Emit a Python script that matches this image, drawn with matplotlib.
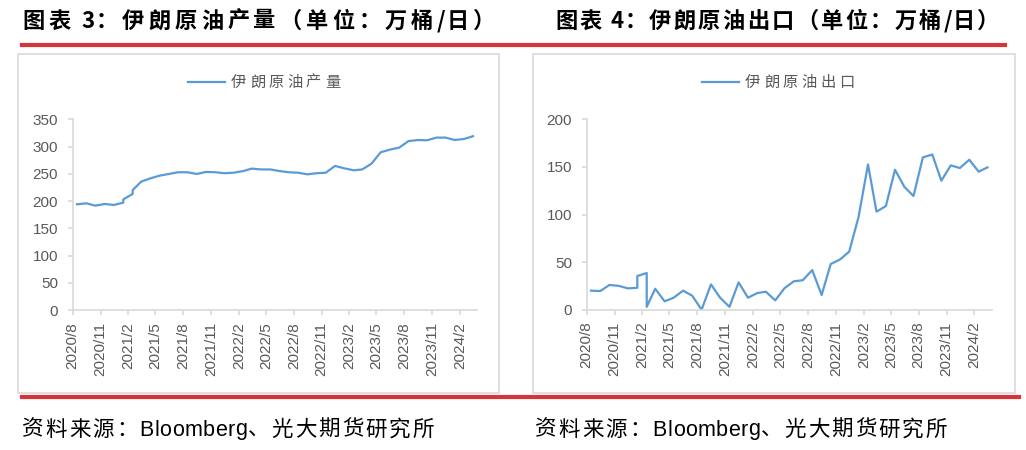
import matplotlib
matplotlib.use("Agg")
import matplotlib.pyplot as plt
from matplotlib.lines import Line2D
from matplotlib.patches import Rectangle
import pandas as pd

plt.rcParams['font.family'] = ['Liberation Sans', 'Noto Sans CJK SC', 'DejaVu Sans']

# ---------------- data ----------------
months = ["2020-08", "2020-09", "2020-10", "2020-11", "2020-12",
          "2021-01", "2021-01", "2021-02", "2021-02",
          "2021-03", "2021-04", "2021-05", "2021-06", "2021-07", "2021-08",
          "2021-09", "2021-10", "2021-11", "2021-12",
          "2022-01", "2022-02", "2022-03", "2022-04", "2022-05", "2022-06",
          "2022-07", "2022-08", "2022-09", "2022-10", "2022-11", "2022-12",
          "2023-01", "2023-02", "2023-03", "2023-04", "2023-05", "2023-06",
          "2023-07", "2023-08", "2023-09", "2023-10", "2023-11", "2023-12",
          "2024-01", "2024-02", "2024-03"]

production = [194, 195.8, 191.5, 194.6, 192.8,
              197, 203, 213, 220,
              235.6, 241.7, 246.6, 249.7, 252.8, 252.8,
              249.7, 253.4, 252.8, 251,
              252, 255, 259.5, 258, 258, 255,
              252.8, 252, 249, 251, 252, 264.4,
              260, 256.4, 258, 268.7, 289.5, 294.4,
              298, 310, 312, 311.5, 316.4, 316.4,
              312, 314, 319]

exports = [20, 19.6, 26, 25, 22.4,
           23, 35.4, 38.5, 3,
           22, 8.8, 12.6, 20, 14.7, 0,
           26.6, 12.6, 3, 28.7,
           12.6, 17.5, 18.9, 9.8, 22.4, 29.8,
           31, 41.6, 15.4, 48, 52.8, 61,
           97.7, 152.6, 103, 108.9, 147, 129,
           119.4, 160, 163, 135.5, 151.6, 148.8,
           157.5, 145, 149.5]

tick_months = ["2020-08", "2020-11", "2021-02", "2021-05", "2021-08", "2021-11",
               "2022-02", "2022-05", "2022-08", "2022-11", "2023-02", "2023-05",
               "2023-08", "2023-11", "2024-02"]
tick_labels = ["2020/8", "2020/11", "2021/2", "2021/5", "2021/8", "2021/11",
               "2022/2", "2022/5", "2022/8", "2022/11", "2023/2", "2023/5",
               "2023/8", "2023/11", "2024/2"]

titles = ["图表 3：伊朗原油产量（单位：万桶/日）", "图表 4：伊朗原油出口（单位：万桶/日）"]
legend_labels = ["伊朗原油产量", "伊朗原油出口"]
source_text = "资料来源：Bloomberg、光大期货研究所"

# ---------------- figure ----------------
W, H = 1026, 450
fig = plt.figure(figsize=(W / 100, H / 100), dpi=100)
renderer = fig.canvas.get_renderer()


def fx(x):
    return x / W


def fy(y):
    return 1 - y / H


def spaced_text(x_px, y_px, text, spacing_px, **kw):
    """Draw text char by char (CJK chars get extra letter spacing)."""
    x = x_px
    for ch in text:
        t = fig.text(fx(x), fy(y_px), ch, va="center", ha="left", **kw)
        w = t.get_window_extent(renderer=renderer).width
        if ch == " ":
            w = 6
        extra = spacing_px if ord(ch) > 0x2000 else spacing_px * 0.25
        x += w + extra
    return x


dates = pd.to_datetime([m + "-01" for m in months]) + pd.Timedelta(days=14)
tick_dates = pd.to_datetime([m + "-01" for m in tick_months])
xmin = pd.Timestamp("2020-08-01")
xmax = pd.Timestamp("2024-03-29")

LINE = "#5B9BD5"
GRAY = "#595959"
AX = "#D9D9D9"
RED = "#D7343A"

# frames
for (x0, x1) in [(18, 499), (533, 1015)]:
    fig.patches.append(Rectangle((fx(x0), fy(393)), fx(x1) - fx(x0), fy(54) - fy(393),
                                 transform=fig.transFigure, fill=False,
                                 edgecolor=AX, linewidth=1.2, zorder=0))

# red rules
fig.lines.append(Line2D([fx(22), fx(1005)], [fy(44.5), fy(44.5)], transform=fig.transFigure,
                        color=RED, linewidth=3.0))
fig.lines.append(Line2D([fx(22), fx(1019)], [fy(397), fy(397)], transform=fig.transFigure,
                        color=RED, linewidth=3.0))

specs = [
    dict(x0=72.7, x1=477.3, ytop=119.3, ybot=310, ymax=350, yt=range(0, 351, 50),
         data=production, leg_x=188, title_x=22, title_sp=4.0, src_x=22),
    dict(x0=586.7, x1=991.7, ytop=119.3, ybot=309.7, ymax=200, yt=range(0, 201, 50),
         data=exports, leg_x=702, title_x=555, title_sp=2.3, src_x=535),
]

for i, s in enumerate(specs):
    ax = fig.add_axes([fx(s["x0"]), fy(s["ybot"]), fx(s["x1"]) - fx(s["x0"]),
                       fy(s["ytop"]) - fy(s["ybot"])])
    ax.plot(dates, s["data"], color=LINE, linewidth=1.6, label=legend_labels[i],
            solid_joinstyle="round")
    ax.set_xlim(xmin, xmax)
    ax.set_ylim(0, s["ymax"])
    ax.set_yticks(list(s["yt"]))
    ax.set_xticks(tick_dates)
    ax.set_xticklabels(tick_labels, rotation=90, va="top", ha="center")
    for sp in ["top", "right"]:
        ax.spines[sp].set_visible(False)
    for sp in ["left", "bottom"]:
        ax.spines[sp].set_color(AX)
        ax.spines[sp].set_linewidth(1.2)
    ax.tick_params(axis="both", colors=AX, labelcolor=GRAY, labelsize=11, length=3.5,
                   width=1.2, direction="out")
    ax.tick_params(axis="y", pad=7)
    ax.tick_params(axis="x", pad=5)
    ax.patch.set_alpha(0)

    # legend (manual, letter-spaced like the original)
    lx = s["leg_x"]
    fig.lines.append(Line2D([fx(lx), fx(lx + 37)], [fy(82), fy(82)], transform=fig.transFigure,
                            color=LINE, linewidth=1.6))
    spaced_text(lx + 43, 82, legend_labels[i], 3.5, fontsize=11,
                family=["Noto Sans CJK SC"], color=GRAY)

    spaced_text(s["title_x"], 21, titles[i], s["title_sp"], fontsize=16, fontweight="bold",
                family=["Noto Sans CJK SC", "DejaVu Sans"], color="black")
    spaced_text(s["src_x"], 430, source_text, 2.0, fontsize=15.5,
                family=["Liberation Sans", "Noto Sans CJK SC"], color="black")

fig.savefig("out.png", dpi=100)
